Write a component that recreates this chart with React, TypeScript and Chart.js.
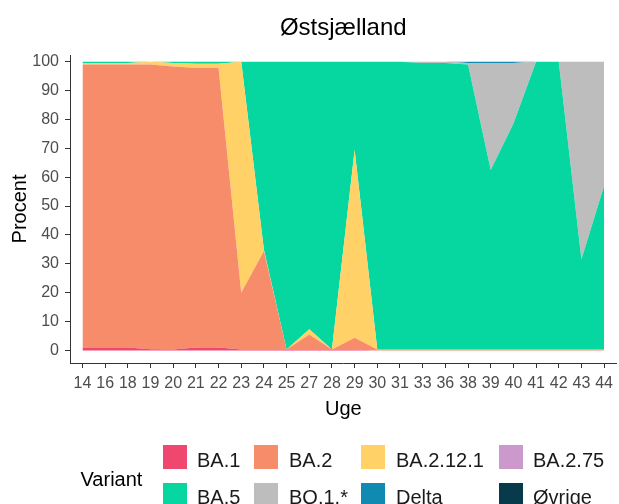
import React, { useEffect, useRef } from 'react';
import { Chart, registerables } from 'chart.js';

Chart.register(...registerables);

const FONT = "'Liberation Sans', Arial, Helvetica, sans-serif";

const TITLE = 'Østsjælland';
const X_TITLE = 'Uge';
const Y_TITLE = 'Procent';
const LEGEND_TITLE = 'Variant';

const weeks = ['14', '16', '18', '19', '20', '21', '22', '23', '24', '25', '27', '28', '29', '30', '31', '33', '36', '38', '39', '40', '41', '42', '43', '44'];
const yTicks = [0, 10, 20, 30, 40, 50, 60, 70, 80, 90, 100];

const variants = ['BA.1', 'BA.2', 'BA.2.12.1', 'BA.2.75', 'BA.5', 'BQ.1.*', 'Delta', 'Øvrige'];
const colors = ['#EF476F', '#F78C6B', '#FFD166', '#CC99CC', '#06D6A0', '#BDBDBD', '#118AB2', '#073B4C'];

const ba1 = [1, 1, 1, 0.4, 0.3, 1, 1, 0.3, 0.3, 0.3, 0.3, 0.3, 0.3, 0, 0, 0, 0, 0, 0, 0, 0, 0, 0, 0];
const ba2 = [98, 98, 98, 98.6, 98, 96.8, 96.8, 19.7, 34.1, 0, 5.2, 0, 4.1, 0.3, 0.3, 0.3, 0.3, 0.3, 0.3, 0.3, 0.3, 0.3, 0.3, 0.3];
const ba2121 = [0.5, 0.5, 0.5, 1, 1.2, 1.5, 1.5, 80, 0.5, 0, 1.8, 0, 65, 0, 0, 0, 0, 0, 0, 0, 0, 0, 0, 0];
const ba275 = [0, 0, 0, 0, 0, 0, 0, 0, 0, 0, 0, 0, 0, 0, 0, 0, 0, 0, 0, 0, 0, 0, 0, 0];
const ba5 = [0.5, 0.5, 0.5, 0, 0.5, 0.7, 0.7, 0, 65.1, 99.7, 92.7, 99.7, 30.6, 99.7, 99.7, 99.2, 99.2, 98.7, 62.2, 78.2, 99.7, 99.7, 31.2, 56.7];
const bq1 = [0, 0, 0, 0, 0, 0, 0, 0, 0, 0, 0, 0, 0, 0, 0, 0.5, 0.5, 0.5, 37, 21, 0, 0, 68.5, 43];
const delta = [0, 0, 0, 0, 0, 0, 0, 0, 0, 0, 0, 0, 0, 0, 0, 0, 0, 0.5, 0.5, 0.5, 0, 0, 0, 0];
const ovrige = [0, 0, 0, 0, 0, 0, 0, 0, 0, 0, 0, 0, 0, 0, 0, 0, 0, 0, 0, 0, 0, 0, 0, 0];

const seriesValues = [ba1, ba2, ba2121, ba275, ba5, bq1, delta, ovrige];

const textPlugin = {
  id: 'ggTexts',
  afterDraw(chart: any) {
    const { ctx, chartArea } = chart;
    const cx = (chartArea.left + chartArea.right) / 2;
    const cy = (chartArea.top + chartArea.bottom) / 2;
    ctx.save();
    ctx.fillStyle = '#000000';
    ctx.textAlign = 'center';
    ctx.textBaseline = 'alphabetic';
    ctx.font = `24px ${FONT}`;
    ctx.fillText(TITLE, cx, 35);
    ctx.font = `20px ${FONT}`;
    ctx.fillText(X_TITLE, cx, chartArea.bottom + 52);
    ctx.translate(25.5, cy);
    ctx.rotate(-Math.PI / 2);
    ctx.fillText(Y_TITLE, 0, 0);
    ctx.restore();
  },
};

export default function App() {
  const canvasRef = useRef<HTMLCanvasElement | null>(null);

  useEffect(() => {
    if (!canvasRef.current) return;
    const datasets = variants.map((name, k) => ({
      label: name,
      data: weeks.map((_, i) => ({ x: i, y: seriesValues[k][i] })),
      backgroundColor: colors[k],
      borderColor: colors[k],
      borderWidth: 0,
      pointRadius: 0,
      pointHoverRadius: 0,
      tension: 0,
      fill: k === 0 ? 'origin' : '-1',
    }));

    const chart = new Chart(canvasRef.current, {
      type: 'line',
      data: { datasets },
      plugins: [textPlugin],
      options: {
        responsive: false,
        animation: false,
        devicePixelRatio: 1,
        layout: { padding: { top: 55, left: 0, right: 0, bottom: 74 } },
        plugins: {
          legend: { display: false },
          tooltip: { enabled: false },
          title: { display: false },
          filler: { propagate: false },
        },
        scales: {
          x: {
            type: 'linear',
            min: -0.55,
            max: 23.55,
            afterFit: (scale: any) => {
              scale.height = 67;
            },
            afterBuildTicks: (scale: any) => {
              scale.ticks = weeks.map((_, i) => ({ value: i }));
            },
            ticks: {
              autoSkip: false,
              maxRotation: 0,
              minRotation: 0,
              padding: 6,
              color: '#4D4D4D',
              font: { family: FONT, size: 16 },
              callback: (v: any) => weeks[Math.round(Number(v))] ?? '',
            },
            grid: {
              display: true,
              drawOnChartArea: false,
              drawTicks: true,
              tickLength: 5,
              tickColor: '#333333',
              lineWidth: 1,
            },
            border: { display: true, color: '#333333', width: 1 },
          },
          y: {
            type: 'linear',
            stacked: true,
            min: -4.36,
            max: 102.3,
            afterFit: (scale: any) => {
              scale.width = 70;
            },
            afterBuildTicks: (scale: any) => {
              scale.ticks = yTicks.map((v) => ({ value: v }));
            },
            ticks: {
              padding: 6,
              color: '#4D4D4D',
              font: { family: FONT, size: 16 },
              callback: (v: any) => String(v),
            },
            grid: {
              display: true,
              drawOnChartArea: false,
              drawTicks: true,
              tickLength: 5,
              tickColor: '#333333',
              lineWidth: 1,
            },
            border: { display: true, color: '#333333', width: 1 },
          },
        },
      },
    } as any);

    return () => chart.destroy();
  }, []);

  const colX = [163, 254, 361, 499];
  const textX = [197, 289, 396, 533];
  const rowY = [445, 483];
  const textTop = [450, 487.3];

  return (
    <div style={{ position: 'fixed', left: 0, top: 0, width: 619, height: 504, background: '#ffffff', overflow: 'hidden', fontFamily: FONT }}>
      <canvas ref={canvasRef} width={619} height={504} style={{ display: 'block', position: 'absolute', left: 0, top: 0, width: 619, height: 504 }} />
      <span style={{ position: 'absolute', left: 80.5, top: 469.1, fontSize: 20, lineHeight: '20px', color: '#000', whiteSpace: 'nowrap' }}>{LEGEND_TITLE}</span>
      {variants.map((name, k) => {
        const r = Math.floor(k / 4);
        const c = k % 4;
        return (
          <React.Fragment key={name}>
            <div style={{ position: 'absolute', left: colX[c], top: rowY[r], width: 24, height: 24, background: colors[k] }} />
            <span style={{ position: 'absolute', left: textX[c], top: textTop[r], fontSize: 20, lineHeight: '20px', color: '#1A1A1A', whiteSpace: 'nowrap' }}>{name}</span>
          </React.Fragment>
        );
      })}
    </div>
  );
}
